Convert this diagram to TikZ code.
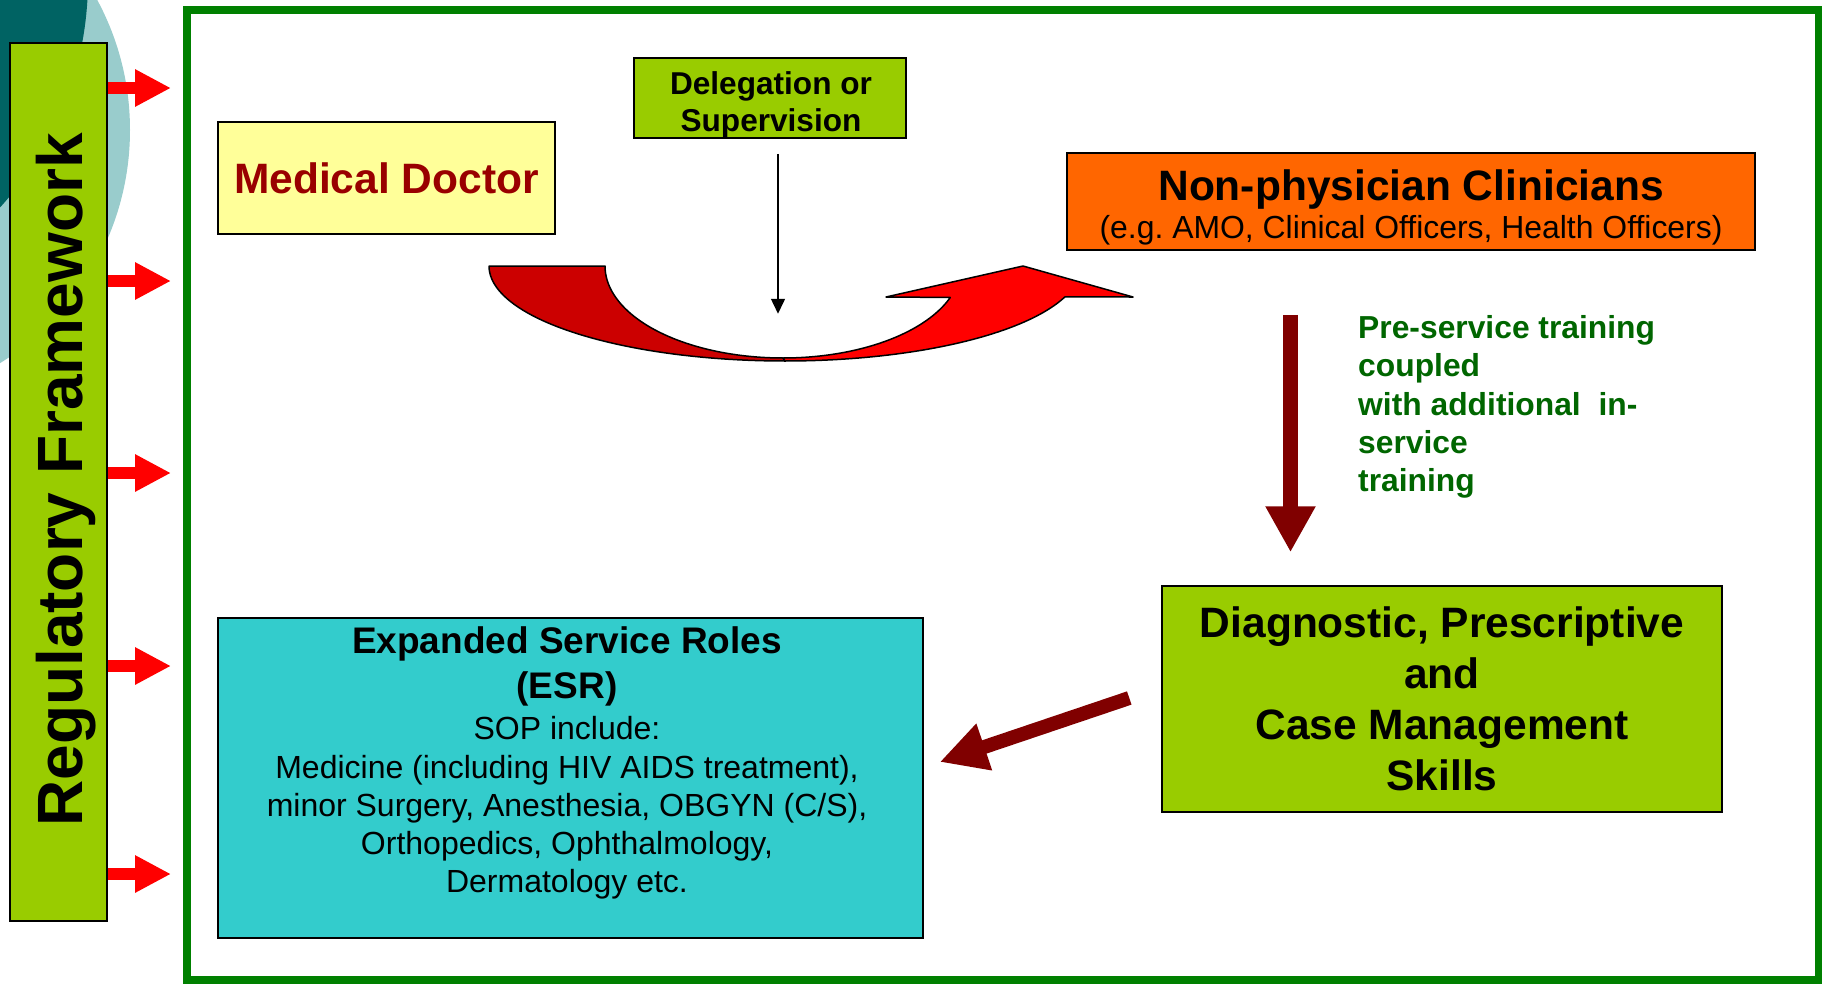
\documentclass[tikz,border=0pt]{standalone}
\usepackage{fontspec}
\setmainfont{Liberation Sans}
\usetikzlibrary{arrows.meta,calc}
\frenchspacing
\definecolor{darkteal}{RGB}{0,99,99}
\definecolor{lightteal}{RGB}{153,204,204}
\definecolor{limeg}{RGB}{153,204,0}
\definecolor{mdyellow}{RGB}{255,255,153}
\definecolor{mdred}{RGB}{153,0,0}
\definecolor{npcorange}{RGB}{255,102,0}
\definecolor{esrcyan}{RGB}{51,204,204}
\definecolor{maroon}{RGB}{128,0,0}
\definecolor{txtgreen}{RGB}{0,102,0}
\definecolor{frameg}{RGB}{0,128,0}
\definecolor{cdark}{RGB}{204,0,0}
\definecolor{cred}{RGB}{255,0,0}
\begin{document}
\frenchspacing
\begin{tikzpicture}[x=1pt,y=-1pt,
  box/.style={draw=black, line width=1.5pt, inner sep=0pt, align=center},
  txt/.style={inner sep=0pt, align=center},
  redarr/.style={draw=cred, line width=12pt, -{Triangle[width=35pt,length=36pt]}},
  blockarr/.style={draw=maroon, line width=15pt, -{Triangle[width=47pt,length=46pt]}},
  thinarr/.style={draw=black, line width=1.5pt, -{Triangle[width=14pt,length=15pt]}}
]
\useasboundingbox (0,0) rectangle (1822,985);
\fill[white] (0,0) rectangle (1822,985);
\begin{scope}
  \clip (0,0) rectangle (1822,985);
  \fill[lightteal] (-144,130) circle[radius=274pt];
  \fill[darkteal] (-250,-20) circle[radius=338pt];
\end{scope}
% frame
\node[draw=frameg, line width=8pt, inner sep=0pt, minimum width=1632, minimum height=970] (frame) at (1002.5,494.5) {};
% regulatory framework
\node[draw=black, line width=2pt, fill=limeg, inner sep=0pt, minimum width=97, minimum height=878] (reg) at (58.5,482) {};
\node[rotate=90, anchor=base, inner sep=0pt, font=\bfseries\fontsize{64}{64}\selectfont] (regtext) at (82,480) {Regulatory Framework};
\foreach \yy [count=\i] in {394,201,9,-184,-392}{
  \draw[redarr] ([yshift=\yy]reg.east) -- ++(63,0);
}
% medical doctor
\node[box, fill=mdyellow, minimum width=337, minimum height=112, text=mdred, font=\bfseries\fontsize{42.5}{51}\selectfont] (md) at (386.5,178) {Medical Doctor};
% delegation
\node[box, fill=limeg, minimum width=272, minimum height=80] (del) at (770,98) {};
\node[txt, font=\bfseries\fontsize{31.6}{37}\selectfont] (deltext) at (771,105) {Delegation or\\Supervision};
% NPC
\node[box, fill=npcorange, minimum width=688, minimum height=97] (npc) at (1411,201.5) {};
\node[txt, anchor=base, font=\bfseries\fontsize{42.5}{51}\selectfont] (npctitle) at (1411,200) {Non-physician Clinicians};
\node[txt, anchor=base, font=\fontsize{31.9}{38}\selectfont] (npcsub) at (1411,238) {(e.g. AMO, Clinical Officers, Health Officers)};
% DPS
\node[box, fill=limeg, minimum width=560, minimum height=226, font=\bfseries\fontsize{42.5}{51}\selectfont] (dps) at (1442,699) {Diagnostic, Prescriptive\\and\\Case Management\\Skills};
% ESR
\node[box, fill=esrcyan, minimum width=705, minimum height=320] (esr) at (570.5,778) {};
\node[txt, font=\bfseries\fontsize{37}{45}\selectfont] (esrtitle) at (567,666) {Expanded Service Roles\\(ESR)};
\node[txt, font=\fontsize{32}{38.25}\selectfont] (esrbody) at (567,808) {SOP include:\\Medicine (including HIV AIDS treatment),\\minor Surgery, Anesthesia, OBGYN (C/S),\\Orthopedics, Ophthalmology,\\Dermatology etc.};
% green text
\node[txt, align=left, anchor=west, text=txtgreen, font=\bfseries\fontsize{31.8}{38.3}\selectfont] (train) at (1358,407) {Pre-service training\\coupled\\with additional\ \ in-\\service\\training};
% curved arrow
\filldraw[fill=cdark, draw=black, line width=1.5pt, line join=round]
  (489,266) -- (605,266)
  -- plot[domain=180:90, samples=50, variable=\t] ({783+178*cos(\t)},{266+92*sin(\t)})
  -- plot[domain=90:180, samples=50, variable=\t] ({785+296*cos(\t)},{266+95*sin(\t)})
  -- cycle;
\filldraw[fill=cred, draw=black, line width=1.5pt, line join=round]
  plot[domain=90:20, samples=50, variable=\t] ({783+178*cos(\t)},{266+92*sin(\t)})
  -- (886,297) -- (1023,266) -- (1133,297)
  -- plot[domain=19:90, samples=50, variable=\t] ({785+296*cos(\t)},{266+95*sin(\t)})
  -- cycle;
% thin arrow
\coordinate (thinend) at ($(del.south)+(8,175)$);
\draw[thinarr] ($(del.south)+(8,15)$) -- (thinend);
% block arrows
\draw[blockarr] ($(npc.south)+(-120.5,64)$) -- ($(dps.north)+(-151.5,-33)$);
\draw[draw=maroon, line width=14pt, -{Triangle[width=46pt,length=47pt]}] ($(dps.west)+(-32,-1)$) -- ($(esr.east)+(16,-16)$);
\end{tikzpicture}
\end{document}
